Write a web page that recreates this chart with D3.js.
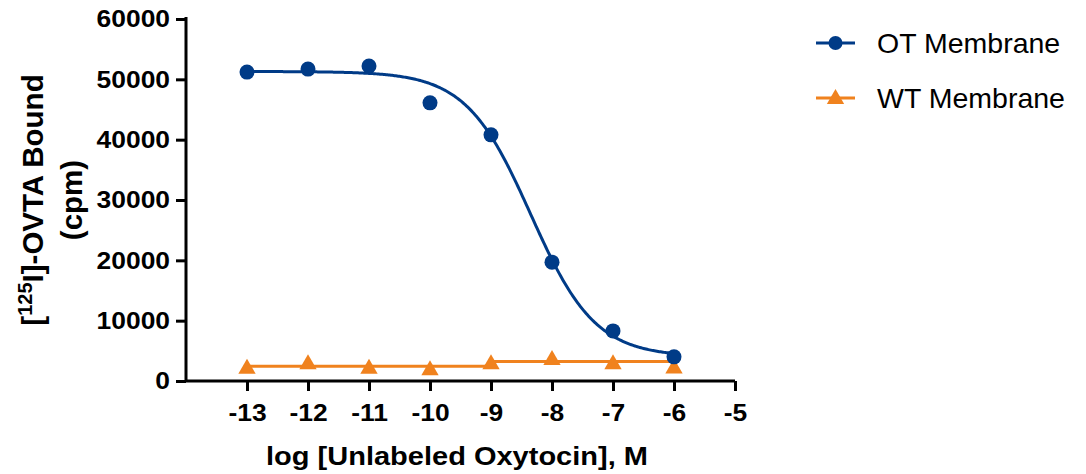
<!DOCTYPE html>
<html>
<head>
<meta charset="utf-8">
<script src="https://cdn.jsdelivr.net/npm/d3@7"></script>
<style>
  body { margin: 0; background: #fff; }
  text { font-family: "Liberation Sans", Arial, sans-serif; }
</style>
</head>
<body>
<svg id="main" width="1086" height="474"></svg>
<script>
// data
var logConc = [-13, -12, -11, -10, -9, -8, -7, -6];
var otBound = [51200, 51700, 52200, 46100, 40800, 19700, 8300, 4000];
var wtBound = [2370, 3100, 2370, 2100, 3100, 3800, 3100, 2400];
var xTicks = [-13, -12, -11, -10, -9, -8, -7, -6, -5];
var yTicks = [0, 10000, 20000, 30000, 40000, 50000, 60000];
var seriesNames = ["OT Membrane", "WT Membrane"];

// fitted curve parameters (one-site competition)
var otFit = {top: 51300, bottom: 4000, logIC50: -8.35, hill: 0.82};
var wtFit = {low: 2450, high: 3250, logEC50: -9.02, hill: 20};

var blue = "#003b87";
var orange = "#f0821e";

var svg = d3.select("#main");

var x = d3.scaleLinear().domain([-14, -5]).range([186, 735]);
var y = d3.scaleLinear().domain([0, 60000]).range([381, 19]);

function otCurve(c) {
    return otFit.bottom + (otFit.top - otFit.bottom) / (1 + Math.pow(10, (c - otFit.logIC50) * otFit.hill));
}
function wtCurve(c) {
    return wtFit.low + (wtFit.high - wtFit.low) / (1 + Math.pow(10, (wtFit.logEC50 - c) * wtFit.hill));
}

// the reference text is a little wider than plain Arial, stretch it
function stretch(sel, k) {
    sel.each(function() {
        var len = this.getComputedTextLength();
        d3.select(this).attr("textLength", len * k).attr("lengthAdjust", "spacingAndGlyphs");
    });
}

// axes
var yAxis = svg.append("g")
    .attr("transform", "translate(186,0)")
    .call(d3.axisLeft(y).tickValues(yTicks).tickSize(10).tickPadding(6).tickFormat(function(d) { return d; }));
var xAxis = svg.append("g")
    .attr("transform", "translate(0,381)")
    .call(d3.axisBottom(x).tickValues(xTicks).tickSize(10).tickPadding(13).tickFormat(function(d) { return d; }));

[yAxis, xAxis].forEach(function(a) {
    a.select(".domain").attr("stroke", "#000").attr("stroke-width", 3);
    a.selectAll(".tick line").attr("stroke", "#000").attr("stroke-width", 3);
    a.selectAll(".tick text")
        .attr("font-family", "'Liberation Sans', Arial, sans-serif")
        .attr("font-weight", "bold")
        .attr("font-size", "24px")
        .attr("fill", "#000")
        .call(stretch, 1.1);
});
yAxis.select(".domain").attr("d", "M0,381V17");
xAxis.select(".domain").attr("d", "M186,0H735");

// curves
var curveSamples = d3.range(-13, -5.999, 0.02);
var line = d3.line()
    .x(function(d) { return x(d[0]); })
    .y(function(d) { return y(d[1]); });

svg.append("path")
    .attr("d", line(curveSamples.map(function(c) { return [c, wtCurve(c)]; })))
    .attr("fill", "none")
    .attr("stroke", orange)
    .attr("stroke-width", 3);

svg.append("path")
    .attr("d", line(curveSamples.map(function(c) { return [c, otCurve(c)]; })))
    .attr("fill", "none")
    .attr("stroke", blue)
    .attr("stroke-width", 3);

var tri = d3.symbol().type(d3.symbolTriangle).size(130);

svg.selectAll(".wt")
    .data(logConc)
    .enter().append("path")
    .attr("class", "wt")
    .attr("d", tri)
    .attr("transform", function(d, i) { return "translate(" + x(d) + "," + (y(wtBound[i]) + 2) + ")"; })
    .attr("fill", orange);

svg.selectAll(".ot")
    .data(logConc)
    .enter().append("circle")
    .attr("class", "ot")
    .attr("cx", function(d) { return x(d); })
    .attr("cy", function(d, i) { return y(otBound[i]); })
    .attr("r", 7.5)
    .attr("fill", blue);

// axis titles
svg.append("text")
    .attr("x", 457)
    .attr("y", 465)
    .attr("text-anchor", "middle")
    .attr("font-weight", "bold")
    .attr("font-size", "25px")
    .text("log [Unlabeled Oxytocin], M")
    .call(stretch, 1.16);

var yTitle = svg.append("g").attr("transform", "translate(0,200) rotate(-90)");
var t1 = yTitle.append("text")
    .attr("x", 0)
    .attr("y", 43)
    .attr("text-anchor", "middle")
    .attr("font-weight", "bold")
    .attr("font-size", "29.5px");
t1.append("tspan").text("[");
t1.append("tspan").attr("font-size", "20px").attr("dy", -11).text("125");
t1.append("tspan").attr("dy", 11).text("I]-OVTA Bound");
yTitle.append("text")
    .attr("x", 0)
    .attr("y", 82)
    .attr("text-anchor", "middle")
    .attr("font-weight", "bold")
    .attr("font-size", "29.5px")
    .text("(cpm)");

// legend
var legend = svg.append("g");
var legendY = [43, 98];
var legendColors = [blue, orange];
seriesNames.forEach(function(name, i) {
    var g = legend.append("g").attr("transform", "translate(0," + legendY[i] + ")");
    g.append("line")
        .attr("x1", 816).attr("x2", 855)
        .attr("stroke", legendColors[i])
        .attr("stroke-width", 3);
    if (i === 0) {
        g.append("circle").attr("cx", 835.5).attr("r", 7).attr("fill", blue);
    } else {
        g.append("path").attr("d", tri).attr("transform", "translate(835.5,1)").attr("fill", orange);
    }
    g.append("text")
        .attr("x", 877)
        .attr("y", 10)
        .attr("font-size", "28.5px")
        .text(name);
});
</script>
</body>
</html>
